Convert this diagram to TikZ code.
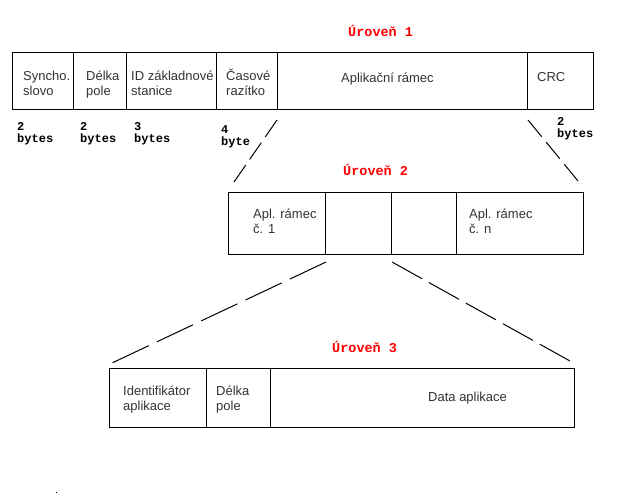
\documentclass[tikz,border=0pt]{standalone}
\usepackage{fontspec}
\setmainfont{Liberation Sans}
\setmonofont{Liberation Mono}
\begin{document}
\begin{tikzpicture}[x=1pt,y=-1pt,
  cell/.style={draw, line width=1.2pt, inner sep=0pt, anchor=north west},
  lbl/.style={anchor=base west, inner sep=0pt, align=left, font=\fontsize{13}{14.5}\selectfont, text=black!80},
  lvl/.style={anchor=base west, inner sep=0pt, text=red, font=\fontsize{13.5}{14}\selectfont\ttfamily\bfseries},
  byt/.style={anchor=base west, inner sep=0pt, align=left, font=\fontsize{12}{12}\selectfont\ttfamily\bfseries},
  zoomline/.style={line width=1pt}]
\useasboundingbox (0,0) rectangle (642,499);
\fill[white] (0,0) rectangle (642,499);

% Level 1
\node[cell, minimum width=61pt, minimum height=57pt] (c11) at (12,52) {};
\node[cell, minimum width=53pt, minimum height=57pt] (c12) at (73,52) {};
\node[cell, minimum width=90pt, minimum height=57pt] (c13) at (126,52) {};
\node[cell, minimum width=61pt, minimum height=57pt] (c14) at (216,52) {};
\node[cell, minimum width=250pt, minimum height=57pt] (c15) at (277,52) {};
\node[cell, minimum width=66pt, minimum height=57pt] (c16) at (527,52) {};

% Level 2
\node[cell, minimum width=97pt, minimum height=62pt] (c21) at (228,192) {};
\node[cell, minimum width=66pt, minimum height=62pt] (c22) at (325,192) {};
\node[cell, minimum width=65pt, minimum height=62pt] (c23) at (391,192) {};
\node[cell, minimum width=127pt, minimum height=62pt] (c24) at (456,192) {};

% Level 3
\node[cell, minimum width=97pt, minimum height=59pt] (c31) at (109,368) {};
\node[cell, minimum width=64pt, minimum height=59pt] (c32) at (206,368) {};
\node[cell, minimum width=304pt, minimum height=59pt] (c33) at (270,368) {};

% level titles
\node[lvl] (u1) at (348,36.5) {Úroveň 1};
\node[lvl] (u2) at (343,175) {Úroveň 2};
\node[lvl] (u3) at (332,352.5) {Úroveň 3};

% level 1 labels (base = last line)
\node[lbl] (t11) at (23,95) {Syncho.\\slovo};
\node[lbl] (t12) at (86,95) {Délka\\pole};
\node[lbl] (t13) at (131,95) {ID základnové\\stanice};
\node[lbl] (t14) at (226,95) {Časové\\razítko};
\node[lbl] (t15) at (341,82) {Aplikační rámec};
\node[lbl] (t16) at (537,81) {CRC};

% byte counts
\node[byt] (b1) at (17,142) {2\\bytes};
\node[byt] (b2) at (80,142) {2\\bytes};
\node[byt] (b3) at (134,142) {3\\bytes};
\node[byt] (b4) at (221,145) {4\\byte};
\node[byt] (b5) at (557,137) {2\\bytes};

% level 2 labels
\node[lbl] (t21) at (253,233) {Apl. rámec\\č. 1};
\node[lbl] (t24) at (469,233) {Apl. rámec\\č. n};

% level 3 labels
\node[lbl] (t31) at (123,410) {Identifikátor\\aplikace};
\node[lbl] (t32) at (216,410) {Délka\\pole};
\node[lbl] (t33) at (428,401) {Data aplikace};

% zoom lines
\coordinate (a1) at (277,120);
\coordinate (a2) at (234,182);
\coordinate (e1) at (528,120);
\coordinate (e2) at (578,181);
\coordinate (d1) at (326,262);
\coordinate (d2) at (112,363);
\coordinate (f1) at (392,262);
\coordinate (f2) at (570,361);
\draw[zoomline, dash pattern=on 20.5pt off 7pt] (a1) -- (a2);
\draw[zoomline, dash pattern=on 21.6pt off 7pt] (e1) -- (e2);
\draw[zoomline, dash pattern=on 40pt off 9pt] (d1) -- (d2);
\draw[zoomline, dash pattern=on 34.3pt off 8pt] (f1) -- (f2);

% stray dot
\fill (55.5,491.5) rectangle (57,493);
\end{tikzpicture}
\end{document}
